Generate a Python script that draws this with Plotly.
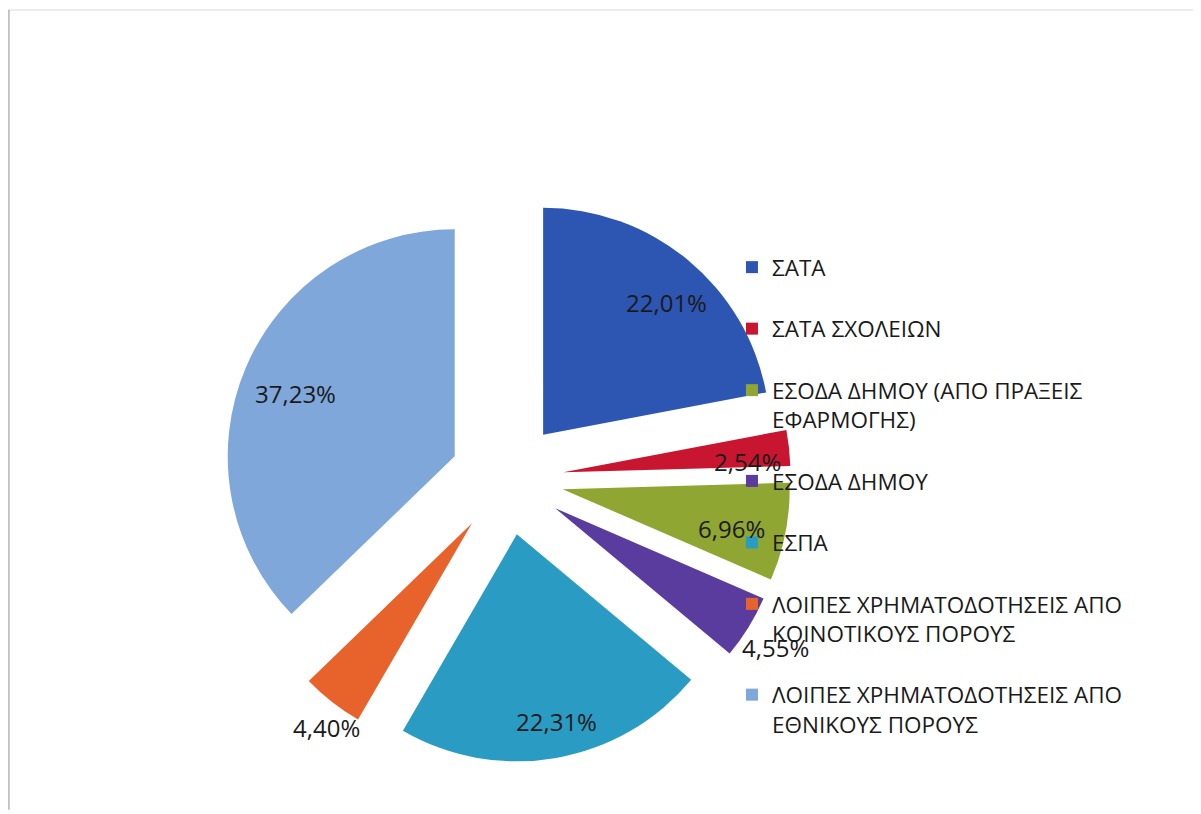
import math
import plotly.graph_objects as go

# ---- data ----
labels = [
    "ΣΑΤΑ",
    "ΣΑΤΑ ΣΧΟΛΕΙΩΝ",
    "ΕΣΟΔΑ ΔΗΜΟΥ (ΑΠΟ ΠΡΑΞΕΙΣ<br>ΕΦΑΡΜΟΓΗΣ)",
    "ΕΣΟΔΑ ΔΗΜΟΥ",
    "ΕΣΠΑ",
    "ΛΟΙΠΕΣ ΧΡΗΜΑΤΟΔΟΤΗΣΕΙΣ ΑΠΟ<br>ΚΟΙΝΟΤΙΚΟΥΣ ΠΟΡΟΥΣ",
    "ΛΟΙΠΕΣ ΧΡΗΜΑΤΟΔΟΤΗΣΕΙΣ ΑΠΟ<br>ΕΘΝΙΚΟΥΣ ΠΟΡΟΥΣ",
]
values = [22.01, 2.54, 6.96, 4.55, 22.31, 4.40, 37.23]

# ---- styles ----
colors = ["#2D56B3", "#C81530", "#8FA632", "#5A3C9E", "#2A9CC4", "#E8632B", "#7FA7DA"]
label_radius = [0.8, 0.78, 0.72, 1.1, 0.8, 1.1, 0.8]  # fraction of radius (label placement style)
PULL = 0.25
W, H = 1201, 814
DOM_X = [0.1792, 0.6517]
DOM_Y = [0.0734, 0.7706]
FONT = "Open Sans"
TXT = "#1a1a1a"
LABEL_SHIFT = 8  # px, right and down

pct_text = [f"{v:.2f}%".replace(".", ",") for v in values]
legend_labels = [l + "<br> " for l in labels]

fig = go.Figure(go.Pie(
    labels=legend_labels,
    values=values,
    textinfo="none",
    sort=False,
    direction="clockwise",
    rotation=0,
    pull=[PULL] * len(values),
    marker=dict(colors=colors, line=dict(width=0)),
    domain=dict(x=DOM_X, y=DOM_Y),
    hoverinfo="percent",
))

# label positions derived from the slice angles and pie geometry
wpx = (DOM_X[1] - DOM_X[0]) * W
hpx = (DOM_Y[1] - DOM_Y[0]) * H
r = min(wpx, hpx) / 2 / (1 + PULL)
cx = (DOM_X[0] + DOM_X[1]) / 2 * W
cy = (1 - (DOM_Y[0] + DOM_Y[1]) / 2) * H
total = sum(values)
annotations = []
cum = 0.0
for v, t, k in zip(values, pct_text, label_radius):
    mid = (cum + v / 2) / total * 2 * math.pi
    cum += v
    dist = PULL * r + k * r
    px = cx + dist * math.sin(mid)
    py = cy - dist * math.cos(mid)
    annotations.append(dict(
        x=px / W, y=1 - py / H, xref="paper", yref="paper",
        xshift=LABEL_SHIFT, yshift=-LABEL_SHIFT,
        text=t, showarrow=False, xanchor="center", yanchor="middle",
        font=dict(family=FONT, size=24, color=TXT),
    ))

fig.update_layout(
    width=W, height=H,
    margin=dict(l=0, r=0, t=0, b=0, autoexpand=False),
    paper_bgcolor="white",
    font=dict(family=FONT, size=22.5, color=TXT),
    showlegend=True,
    legend=dict(
        x=0.6028, y=0.7076, xanchor="left", yanchor="top",
        valign="top",
        font=dict(family=FONT, size=22.5, color=TXT),
        bgcolor="rgba(0,0,0,0)",
    ),
    annotations=annotations,
    shapes=[
        dict(type="line", xref="paper", yref="paper", x0=0.0, x1=1, y0=0.9975, y1=0.9975,
             line=dict(color="#dadada", width=1)),
        dict(type="line", xref="paper", yref="paper", x0=0.0008, x1=0.0008, y0=0.9975, y1=0.015,
             line=dict(color="#8f8f8f", width=1)),
    ],
)

fig.write_html("out.html")
